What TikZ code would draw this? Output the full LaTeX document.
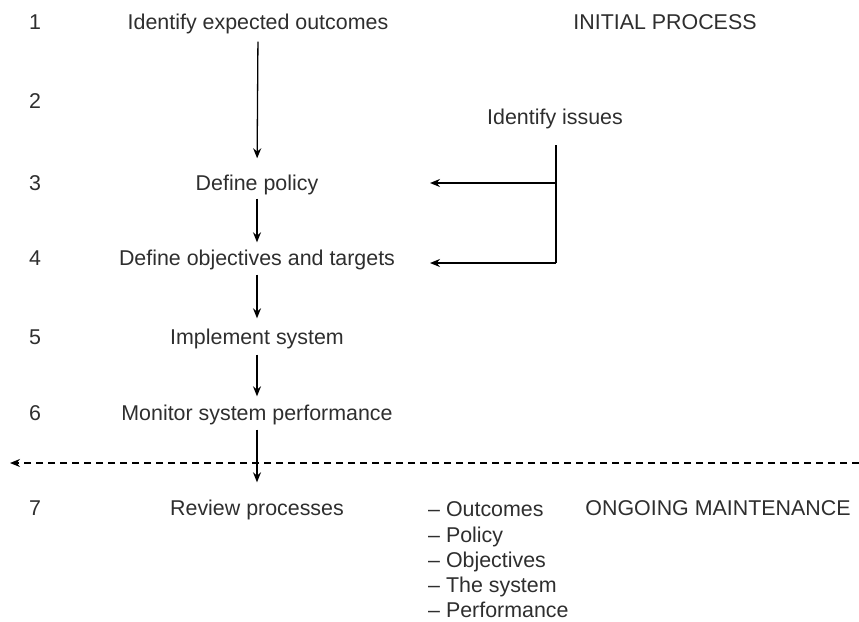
\documentclass[tikz,border=0pt]{standalone}
\usepackage{fontspec}
\setmainfont{Liberation Sans}
\usetikzlibrary{arrows.meta}
\begin{document}
\begin{tikzpicture}[x=1pt,y=-1pt,
  lbl/.style={font=\fontsize{21.4}{25}\selectfont, text=black!82, inner sep=0pt,
              text height=15pt, text depth=4pt},
  item/.style={lbl, anchor=west, text depth=2pt},
  arr/.style={line width=1.3pt, -{Stealth[length=10pt,width=8pt]}},
  plain/.style={line width=1.3pt},
  divider/.style={line width=1.2pt, dash pattern=on 7pt off 5pt,
                  -{Stealth[length=10pt,width=8pt]}}]
\useasboundingbox (0,0) rectangle (859,621);

% step numbers
\foreach \n/\y in {1/24,2/103,3/185,4/260,5/339,6/415,7/510}
  \node[lbl] (num\n) at (35,\y) {\n};

% main sequence of steps
\node[lbl] (s1) at (258,24)  {Identify expected outcomes};
\node[lbl] (s3) at (257,185) {Define policy};
\node[lbl] (s4) at (257,260) {Define objectives and targets};
\node[lbl] (s5) at (257,339) {Implement system};
\node[lbl] (s6) at (257,415) {Monitor system performance};
\node[lbl] (s7) at (257,510) {Review processes};

\draw[arr, shorten <=8pt,  shorten >=17pt] (s1.south) -- (s3.north);
\draw[arr, shorten <=4pt,  shorten >=8pt]  (s3.south) -- (s4.north);
\draw[arr, shorten <=5pt,  shorten >=11pt] (s4.south) -- (s5.north);
\draw[arr, shorten <=6pt,  shorten >=9pt]  (s5.south) -- (s6.north);
\draw[arr, shorten <=5pt,  shorten >=18pt] (s6.south) -- (s7.north);

% issues feeding policy and objectives
\node[lbl] (issues) at (555,119) {Identify issues};
\coordinate (jtop) at (556,145);
\coordinate (j3) at (556,183);
\coordinate (j4) at (556,263);
\coordinate (p3) at (430,183);
\coordinate (p4) at (430,263);
\draw[plain] (jtop) -- (j4);
\draw[arr] (j3) -- (p3);
\draw[arr] (j4) -- (p4);

% phase labels
\node[lbl] (initial) at (665,24) {INITIAL PROCESS};
\node[lbl] (ongoing) at (718,510) {ONGOING MAINTENANCE};

% boundary between the phases
\coordinate (dR) at (859,463);
\coordinate (dL) at (10,463);
\draw[divider] (dR) -- (dL);

% review items
\foreach \i/\t/\y in {1/Outcomes/510,2/Policy/536,3/Objectives/561,4/The system/586,5/Performance/611}
  \node[item] (item\i) at (428,\y) {-- \t};
\end{tikzpicture}
\end{document}
